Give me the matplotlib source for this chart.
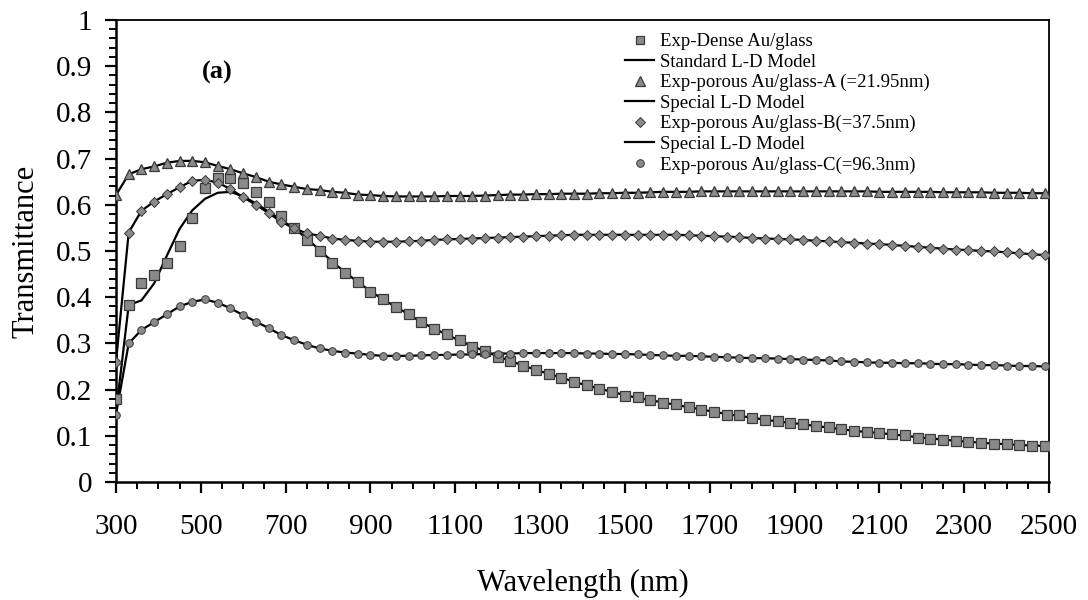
import matplotlib
matplotlib.use("Agg")
import matplotlib.pyplot as plt
from matplotlib.ticker import MultipleLocator, FixedLocator
from matplotlib.lines import Line2D

plt.rcParams['font.family'] = ['Liberation Serif', 'DejaVu Serif']

wavelength = [300, 330, 360, 390, 420, 450, 480, 510, 540, 570,
              600, 630, 660, 690, 720, 750, 780, 810, 840, 870,
              900, 930, 960, 990, 1020, 1050, 1080, 1110, 1140, 1170,
              1200, 1230, 1260, 1290, 1320, 1350, 1380, 1410, 1440, 1470,
              1500, 1530, 1560, 1590, 1620, 1650, 1680, 1710, 1740, 1770,
              1800, 1830, 1860, 1890, 1920, 1950, 1980, 2010, 2040, 2070,
              2100, 2130, 2160, 2190, 2220, 2250, 2280, 2310, 2340, 2370,
              2400, 2430, 2460, 2490]

dense_exp = [0.179, 0.383, 0.431, 0.448, 0.473, 0.511, 0.572, 0.637, 0.659, 0.659,
             0.648, 0.628, 0.605, 0.576, 0.550, 0.524, 0.499, 0.475, 0.452, 0.432,
             0.412, 0.395, 0.379, 0.363, 0.346, 0.331, 0.320, 0.307, 0.293, 0.284,
             0.271, 0.262, 0.251, 0.242, 0.233, 0.226, 0.216, 0.209, 0.201, 0.194,
             0.187, 0.183, 0.177, 0.172, 0.168, 0.162, 0.156, 0.151, 0.146, 0.144,
             0.139, 0.134, 0.132, 0.127, 0.125, 0.121, 0.118, 0.114, 0.110, 0.108,
             0.107, 0.103, 0.101, 0.096, 0.094, 0.091, 0.089, 0.087, 0.084, 0.082,
             0.082, 0.080, 0.078, 0.078]

dense_model = [0.150, 0.383, 0.393, 0.430, 0.490, 0.548, 0.588, 0.613, 0.626, 0.628,
               0.618, 0.603, 0.585, 0.567, 0.549, 0.527, 0.502, 0.477, 0.454, 0.433,
               0.413, 0.395, 0.379, 0.363, 0.346, 0.332, 0.319, 0.306, 0.294, 0.283,
               0.272, 0.262, 0.252, 0.243, 0.234, 0.226, 0.217, 0.209, 0.202, 0.195,
               0.188, 0.182, 0.177, 0.172, 0.167, 0.162, 0.157, 0.152, 0.147, 0.143,
               0.139, 0.135, 0.131, 0.128, 0.125, 0.121, 0.118, 0.114, 0.111, 0.108,
               0.106, 0.103, 0.100, 0.097, 0.094, 0.092, 0.089, 0.087, 0.085, 0.083,
               0.082, 0.080, 0.079, 0.078]

porous_a = [0.621, 0.666, 0.677, 0.683, 0.691, 0.695, 0.695, 0.692, 0.684, 0.677,
            0.668, 0.660, 0.650, 0.644, 0.639, 0.634, 0.632, 0.628, 0.626, 0.622,
            0.621, 0.619, 0.618, 0.618, 0.618, 0.618, 0.619, 0.619, 0.619, 0.620,
            0.621, 0.622, 0.622, 0.623, 0.623, 0.624, 0.624, 0.624, 0.625, 0.625,
            0.626, 0.626, 0.627, 0.628, 0.628, 0.628, 0.629, 0.629, 0.629, 0.629,
            0.629, 0.629, 0.629, 0.629, 0.629, 0.629, 0.629, 0.629, 0.629, 0.629,
            0.628, 0.628, 0.628, 0.628, 0.628, 0.627, 0.627, 0.627, 0.627, 0.626,
            0.626, 0.626, 0.625, 0.625]

porous_b = [0.260, 0.540, 0.587, 0.607, 0.623, 0.638, 0.652, 0.654, 0.648, 0.634,
            0.616, 0.600, 0.582, 0.563, 0.549, 0.538, 0.533, 0.527, 0.524, 0.522,
            0.520, 0.520, 0.520, 0.521, 0.522, 0.524, 0.525, 0.526, 0.527, 0.528,
            0.529, 0.530, 0.531, 0.532, 0.533, 0.534, 0.535, 0.535, 0.535, 0.535,
            0.535, 0.535, 0.535, 0.535, 0.535, 0.534, 0.533, 0.532, 0.531, 0.530,
            0.528, 0.527, 0.526, 0.525, 0.524, 0.522, 0.521, 0.519, 0.518, 0.516,
            0.515, 0.513, 0.511, 0.509, 0.507, 0.505, 0.503, 0.502, 0.500, 0.499,
            0.497, 0.495, 0.493, 0.491]

porous_c = [0.146, 0.300, 0.329, 0.346, 0.363, 0.380, 0.390, 0.395, 0.388, 0.376,
            0.361, 0.347, 0.333, 0.318, 0.307, 0.297, 0.289, 0.284, 0.280, 0.278,
            0.275, 0.273, 0.273, 0.273, 0.274, 0.275, 0.275, 0.276, 0.276, 0.277,
            0.278, 0.278, 0.279, 0.279, 0.279, 0.279, 0.279, 0.278, 0.278, 0.277,
            0.277, 0.276, 0.275, 0.274, 0.273, 0.273, 0.272, 0.271, 0.270, 0.269,
            0.268, 0.268, 0.267, 0.266, 0.265, 0.264, 0.263, 0.261, 0.260, 0.259,
            0.258, 0.258, 0.257, 0.257, 0.256, 0.255, 0.255, 0.254, 0.253, 0.253,
            0.252, 0.251, 0.251, 0.250]

labels = ["Exp-Dense Au/glass", "Standard L-D Model",
          "Exp-porous Au/glass-A (=21.95nm)", "Special L-D Model",
          "Exp-porous Au/glass-B(=37.5nm)", "Special L-D Model",
          "Exp-porous Au/glass-C(=96.3nm)"]

x_major = [300, 500, 700, 900, 1100, 1300, 1500, 1700, 1900, 2100, 2300, 2500]
y_major = [0, 0.1, 0.2, 0.3, 0.4, 0.5, 0.6, 0.7, 0.8, 0.9, 1]
y_ticklabels = ["0", "0.1", "0.2", "0.3", "0.4", "0.5", "0.6", "0.7", "0.8", "0.9", "1"]

fill = "#8a8a8a"
edge = "#3a3a3a"

fig = plt.figure(figsize=(10.88, 6.0), dpi=100)
ax = fig.add_axes([0.1066, 0.1967, 0.8576, 0.77])

lw = 1.6
ax.plot(wavelength, dense_model, color="black", lw=lw, zorder=2)
ax.plot(wavelength, porous_a, color="black", lw=lw, zorder=2)
ax.plot(wavelength, porous_b, color="black", lw=lw, zorder=2)
ax.plot(wavelength, porous_c, color="black", lw=lw, zorder=2)

ax.plot(wavelength, dense_exp, ls="none", marker="s", ms=6.5, mfc=fill, mec=edge, mew=0.9, zorder=3)
ax.plot(wavelength, porous_a, ls="none", marker="^", ms=7, mfc=fill, mec=edge, mew=0.9, zorder=3)
ax.plot(wavelength, porous_b, ls="none", marker="D", ms=5, mfc=fill, mec=edge, mew=0.7, zorder=3)
ax.plot(wavelength, porous_c, ls="none", marker="o", ms=5.5, mfc=fill, mec=edge, mew=0.7, zorder=3)

ax.set_xlim(300, 2500)
ax.set_ylim(0, 1)
ax.xaxis.set_major_locator(FixedLocator(x_major))
ax.xaxis.set_minor_locator(MultipleLocator(50))
ax.set_yticks(y_major)
ax.set_yticklabels(y_ticklabels)
ax.yaxis.set_minor_locator(MultipleLocator(0.02))
ax.tick_params(axis="both", which="major", direction="out", length=8, width=1.6,
               labelsize=21, color="black")
ax.tick_params(axis="both", which="minor", direction="out", length=5, width=1.4, color="black")
ax.tick_params(axis="x", which="major", pad=15)
ax.tick_params(axis="y", which="major", pad=9)
for s in ["left", "bottom"]:
    ax.spines[s].set_linewidth(1.8)
for s in ["top", "right"]:
    ax.spines[s].set_linewidth(1.3)

ax.set_xlabel("Wavelength (nm)", fontsize=22, labelpad=21)
ax.set_ylabel("Transmittance", fontsize=22, labelpad=11)

ax.text(538, 0.887, "(a)", fontsize=19, fontweight="bold", ha="center", va="center")

handles = [
    Line2D([], [], ls="none", marker="s", ms=6, mfc=fill, mec=edge, mew=0.9),
    Line2D([], [], color="black", lw=1.6),
    Line2D([], [], ls="none", marker="^", ms=6.5, mfc=fill, mec=edge, mew=0.9),
    Line2D([], [], color="black", lw=1.6),
    Line2D([], [], ls="none", marker="D", ms=5, mfc=fill, mec=edge, mew=0.7),
    Line2D([], [], color="black", lw=1.6),
    Line2D([], [], ls="none", marker="o", ms=5.5, mfc=fill, mec=edge, mew=0.7),
]
fig.legend(handles, labels, loc="upper left", bbox_to_anchor=(625 / 1088, 1 - 33 / 600),
           frameon=False, fontsize=13.5, handlelength=1.55, handletextpad=0.3,
           labelspacing=0.18, borderpad=0, borderaxespad=0)

fig.savefig("out.png", dpi=100)
